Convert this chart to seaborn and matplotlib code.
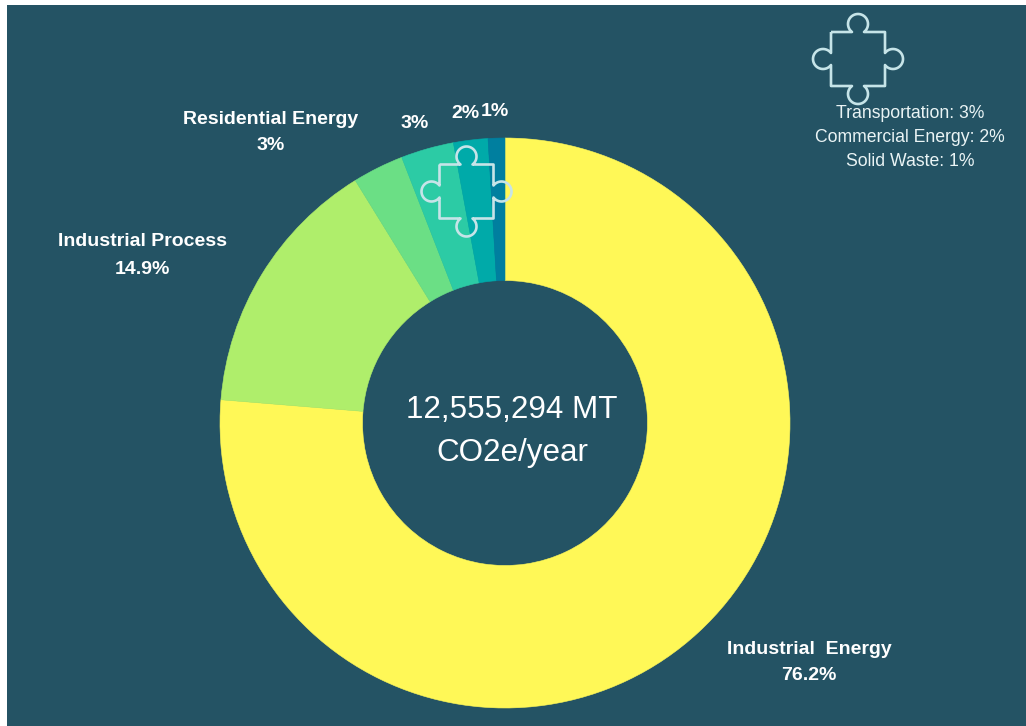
import numpy as np
import matplotlib
matplotlib.use("Agg")
import matplotlib.pyplot as plt
from matplotlib.path import Path
from matplotlib.patches import PathPatch, Rectangle
import seaborn as sns

# ---- data ----
sectors = ["Industrial  Energy", "Industrial Process", "Residential Energy",
           "Transportation", "Commercial Energy", "Solid Waste"]
shares = [76.3, 14.9, 2.9, 3, 1.95, 0.95]
share_labels = ["76.2%", "14.9%", "3%", "3%", "2%", "1%"]
colors = ["#FFF857", "#AFEE6B", "#6BDF85", "#2CCBA5", "#00AAA9", "#007F9F"]
center_lines = ["12,555,294 MT", "CO2e/year"]
note_lines = ["Transportation: 3%", "Commercial Energy: 2%", "Solid Waste: 1%"]

BG = "#245364"
W, H = 1026, 726

sns.set_theme(style="white")
plt.rcParams["font.family"] = ["Liberation Sans", "DejaVu Sans"]

fig = plt.figure(figsize=(W / 100, H / 100), dpi=100, facecolor="white")

# overlay in pixel coordinates (y down) for panel, text, icons
bg = fig.add_axes([0, 0, 1, 1], zorder=0)
bg.set_xlim(0, W); bg.set_ylim(H, 0); bg.axis("off")
bg.add_patch(Rectangle((7, 5), W - 7, H - 5, facecolor=BG, edgecolor="none"))

# donut
cx, cy, R = 505, 423, 285
ax = fig.add_axes([(cx - R) / W, 1 - (cy + R) / H, 2 * R / W, 2 * R / H], zorder=1)
wedges, _ = ax.pie(shares, colors=sns.color_palette(colors), startangle=90, counterclock=False,
                   radius=1, wedgeprops=dict(width=0.5, linewidth=0.4))
for w in wedges:
    w.set_edgecolor(w.get_facecolor())
ax.set_xlim(-1, 1); ax.set_ylim(-1, 1)
ax.set_aspect("equal"); ax.axis("off")

top = fig.add_axes([0, 0, 1, 1], zorder=2)
top.set_xlim(0, W); top.set_ylim(H, 0); top.axis("off"); top.patch.set_alpha(0)


def puzzle(x, y, half=27.0, d=35.0, r=10.0):
    """Outline of a jigsaw piece centred at (x, y)."""
    a0 = np.arcsin((d - half) / r)
    arc = np.linspace(-a0, np.pi + a0, 40)  # knob, travelling over the outside
    pts = []
    for k in range(4):
        # local frame: u along the edge (left to right), v outward
        u = -r * np.cos(arc)
        v = (d - half) + r * np.sin(arc)
        edge = np.column_stack([np.r_[-half, u, half], half + np.r_[0, v, 0]])
        th = -k * np.pi / 2
        rot = np.array([[np.cos(th), -np.sin(th)], [np.sin(th), np.cos(th)]])
        pts.append(edge @ rot.T)
    pts = np.vstack(pts)
    pts = np.column_stack([x + pts[:, 0], y - pts[:, 1]])
    return Path(np.vstack([pts, pts[0]]), closed=False)


for px, py in [(858, 59), (466.5, 191.5)]:
    top.add_patch(PathPatch(puzzle(px, py), facecolor="none", edgecolor="#C6E4E8",
                            linewidth=1.9, joinstyle="round"))

bold = dict(color="white", fontsize=14.0, fontweight="bold", ha="center", va="center")
top.text(809, 649, sectors[0], **bold)
top.text(809, 676, share_labels[0], **bold)
top.text(142, 241, sectors[1], **bold)
top.text(142, 269, share_labels[1], **bold)
top.text(271, 119, sectors[2], **bold)
top.text(271, 146, share_labels[2], **bold)
top.text(415, 123, share_labels[3], **bold)
top.text(465, 113, share_labels[4], **bold)
top.text(495, 111, share_labels[5], **bold)

for line, y in zip(center_lines, [410, 453]):
    top.text(512, y, line, color="white", fontsize=22.6, ha="center", va="center")
for line, y in zip(note_lines, [113, 137, 161]):
    top.text(910, y, line, color="#EAF4F5", fontsize=12.7, ha="center", va="center")

fig.savefig("out.png", dpi=100, facecolor="white")
